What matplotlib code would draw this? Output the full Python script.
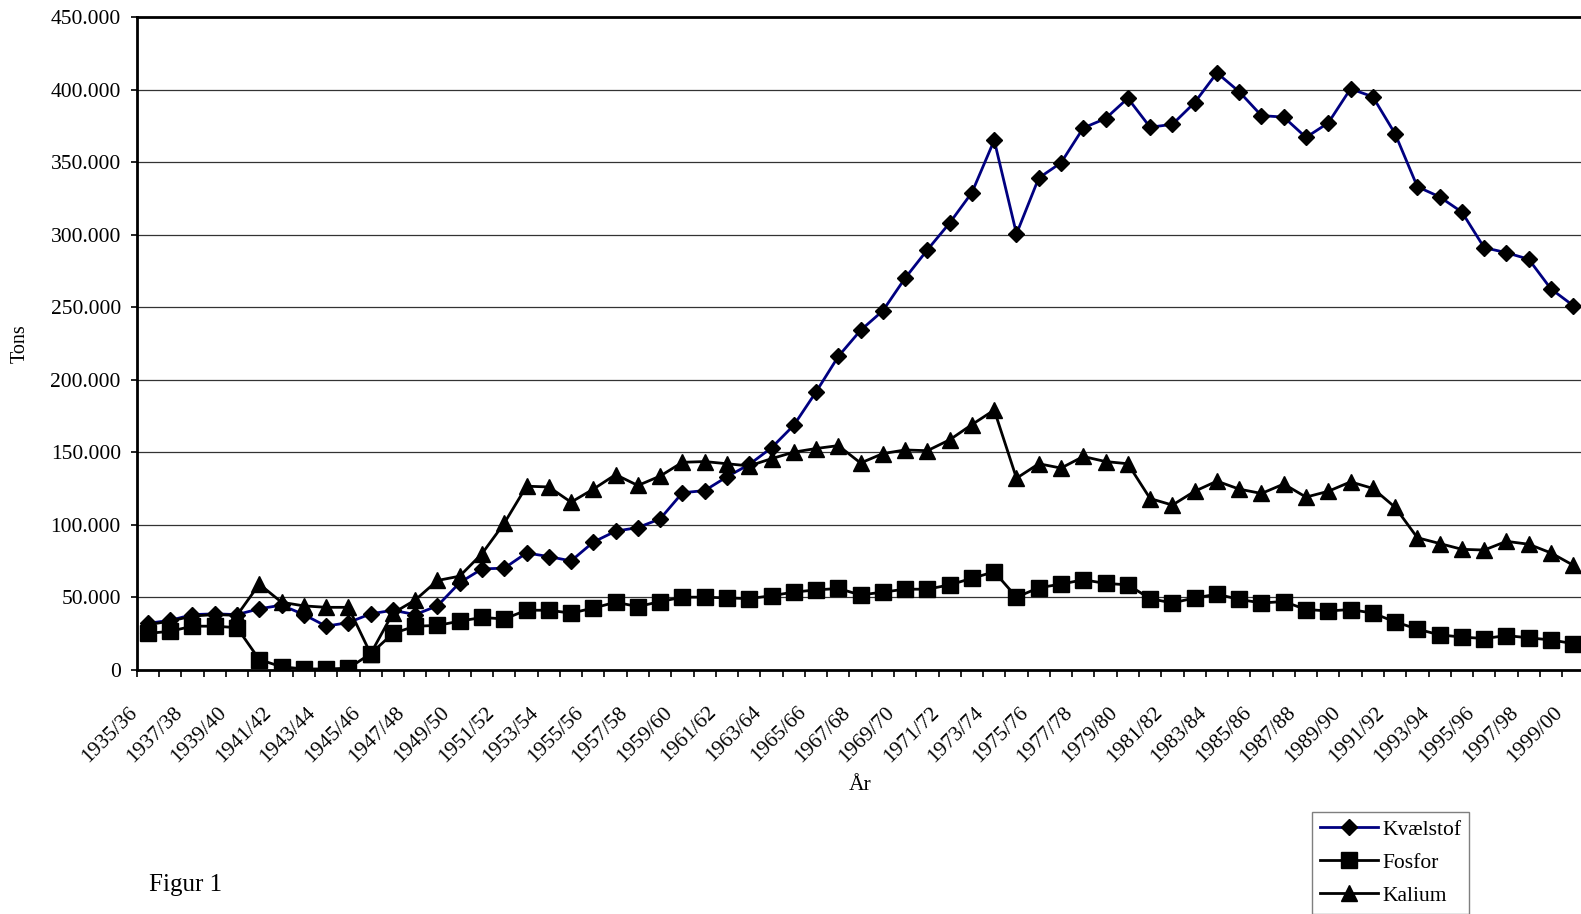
import numpy as np
import matplotlib
matplotlib.use("Agg")
import matplotlib.pyplot as plt
from matplotlib.transforms import offset_copy

plt.rcParams["font.family"] = ["Liberation Serif", "DejaVu Serif"]
FS = 15.5

# ============================================================
# data (tons, in thousands)
# ============================================================
years = [f"{y}/{str(y + 1)[-2:]}" for y in range(1935, 2000)]

kvaelstof = [32, 34, 38, 38.5, 38, 42, 44.5, 38, 30, 32.5,
             38.5, 41, 38, 44, 60, 69.5, 70, 80.5, 78, 75,
             88, 95.5, 98, 104, 122, 123.5, 133, 141.5, 153, 168.5,
             191.5, 216, 234, 247.5, 270, 289.5, 308, 329, 365, 300.5,
             339, 349.5, 373.5, 380, 394, 374, 376, 391, 411.5, 398.5,
             382, 381, 367, 377, 400.5, 395, 369.5, 333, 326, 315.5,
             291, 287.5, 283, 262.5, 251]

fosfor = [25, 26.5, 30, 30, 29, 7, 2, 0.5, 0.5, 1,
          11, 25, 30, 30.5, 33.5, 36, 35, 41, 41, 39,
          42.5, 46.5, 43.5, 47, 50, 50, 49.5, 49, 51, 53.5,
          55, 56, 51.5, 53.5, 55.5, 55.5, 58.5, 63, 67.5, 50,
          56.5, 59, 62, 59.5, 58.5, 49, 46, 49.5, 52, 48.5,
          46, 47, 41.5, 40.5, 41.5, 39, 33, 28, 24, 22.5,
          21.5, 23.5, 22, 20.5, 18]

kalium = [31, 33.5, 37, 38, 37.5, 59, 46.5, 44, 43, 43,
          11, 39, 48, 61.5, 64.5, 80, 101, 126.5, 126, 115.5,
          124.5, 134.5, 127, 133.5, 143, 143.5, 142, 140.5, 145.5, 150,
          152.5, 154.5, 142.5, 149, 151.5, 151, 158.5, 169, 179, 132,
          142, 139, 147, 143.5, 142, 118, 113.5, 123, 130, 124.5,
          121.5, 128, 119, 123, 129.5, 125, 112, 91, 87, 83,
          82.5, 88.5, 86.5, 80.5, 72]

series = ["Kvælstof", "Fosfor", "Kalium"]

# ============================================================
# figure
# ============================================================
W, H = 1581, 914
fig = plt.figure(figsize=(W / 100, H / 100), dpi=100)
ax = fig.add_axes([136.8 / W, 1 - 669.7 / H, 1447.6 / W, (669.7 - 17) / H])

x = np.arange(len(years)) + 0.5
kw = dict(linewidth=2.0, markeredgecolor="black", markerfacecolor="black")
l1, = ax.plot(x, np.array(kvaelstof) * 1000, color="#000080", marker="D",
              markersize=8.2, label=series[0], **kw)
l2, = ax.plot(x, np.array(fosfor) * 1000, color="black", marker="s",
              markersize=12, label=series[1], **kw)
l3, = ax.plot(x, np.array(kalium) * 1000, color="black", marker="^",
              markersize=11.5, label=series[2], **kw)

ax.set_xlim(0, len(years))
ax.set_ylim(0, 450000)

yt = np.arange(0, 450001, 50000)
ax.set_yticks(yt)
ax.set_yticklabels([f"{v:,}".replace(",", ".") for v in yt], fontsize=FS)
ax.tick_params(axis="y", direction="out", length=4.5, width=1.2, pad=7)
for v in yt[1:-1]:
    ax.axhline(v, color="#333333", linewidth=0.9, zorder=0)

# category ticks between categories, labels every other year
ax.set_xticks(np.arange(0, len(years) + 1), minor=True)
ax.set_xticks([])
ax.tick_params(axis="x", which="minor", direction="out", length=5, width=1.2)
lab_tr = offset_copy(ax.get_xaxis_transform(), fig=fig, x=-13, y=-40, units="dots")
for i in range(0, len(years), 2):
    ax.text(x[i], 0, years[i], transform=lab_tr, rotation=45,
            rotation_mode="anchor", ha="right", va="center", fontsize=FS)

for s in ["left", "bottom", "top"]:
    ax.spines[s].set_linewidth(2.0)
ax.spines["right"].set_visible(False)

fig.text(20.5 / W, 1 - 344 / H, "Tons", rotation=90, ha="center", va="center", fontsize=14.5)
fig.text(860 / W, 1 - 785 / H, "År", ha="center", va="center", fontsize=FS)
fig.text(149 / W, 1 - 891 / H, "Figur 1", ha="left", va="baseline", fontsize=18)

leg = fig.legend(handles=[l1, l2, l3], loc="lower left",
                 bbox_to_anchor=(1312 / W, 0.5 / H), fontsize=FS,
                 fancybox=False, edgecolor="#7f7f7f", framealpha=1,
                 borderaxespad=0, handlelength=2.7, handletextpad=0.2,
                 labelspacing=0.6, borderpad=0.35)
leg.get_frame().set_linewidth(1.0)

fig.savefig("out.png", dpi=100)
